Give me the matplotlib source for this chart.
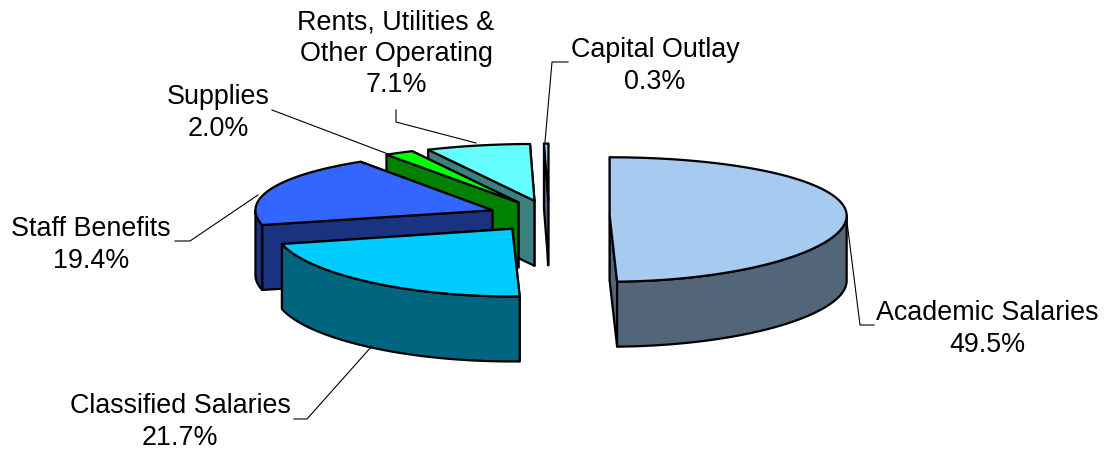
import numpy as np
import matplotlib
matplotlib.use('Agg')
import matplotlib.pyplot as plt
from matplotlib.patches import Polygon

plt.rcParams['font.family'] = ['Liberation Sans', 'DejaVu Sans']

categories = ['Academic Salaries', 'Classified Salaries', 'Staff Benefits', 'Supplies',
              'Rents, Utilities &\nOther Operating', 'Capital Outlay']
values = [49.5, 21.7, 19.4, 2.0, 7.1, 0.3]
top_colors = ['#A6CAF0', '#00CCFF', '#3366FF', '#00FF00', '#66FFFF', '#A6CAF0']
side_colors = ['#536579', '#006680', '#1A3380', '#008000', '#3D8080', '#536579']
# order the slices are painted in, back to front
draw_order = [4, 5, 3, 2, 1, 0]

# pie geometry, in pixels of the output image
cx, cy = 549, 216
radius = 237
squash = 62
depth = 65
explode = 0.256
persp = 0.06


def project(X, Y, drop=0):
    # only the vertical direction is foreshortened
    w = 1 + persp * Y
    return cx + radius * X, cy - squash * Y / w + drop


def rim(a1, a2, ox, oy, drop=0):
    t = np.radians(np.linspace(a1, a2, max(int(a2 - a1) * 2, 2)))
    return project(ox + np.sin(t), oy + np.cos(t), drop)


fig = plt.figure(figsize=(11.04, 4.53), dpi=100)
ax = fig.add_axes([0, 0, 1, 1])
ax.set_xlim(0, 1104)
ax.set_ylim(453, 0)
ax.axis('off')

edges = np.cumsum([0] + values) / sum(values) * 360
for i in draw_order:
    a1, a2 = edges[i], edges[i + 1]
    mid = np.radians((a1 + a2) / 2)
    ox, oy = explode * np.sin(mid), explode * np.cos(mid)
    style = dict(edgecolor='black', linewidth=1.6, joinstyle='round')

    # the two cut faces, the one further away first
    cuts = sorted([a1, a2], key=lambda a: -np.cos(np.radians(a)))
    for a in cuts:
        t = np.radians(a)
        xc, yc = project(ox, oy)
        xr, yr = project(ox + np.sin(t), oy + np.cos(t))
        xc2, yc2 = project(ox, oy, depth)
        xr2, yr2 = project(ox + np.sin(t), oy + np.cos(t), depth)
        ax.add_patch(Polygon([(xc, yc), (xr, yr), (xr2, yr2), (xc2, yc2)],
                             facecolor=side_colors[i], **style))

    # outer wall, only the part of the rim facing the viewer
    w1, w2 = max(a1, 90), min(a2, 270)
    if w2 > w1:
        xt, yt = rim(w1, w2, ox, oy)
        xb, yb = rim(w1, w2, ox, oy, depth)
        pts = np.column_stack([np.r_[xt, xb[::-1]], np.r_[yt, yb[::-1]]])
        ax.add_patch(Polygon(pts, facecolor=side_colors[i], **style))

    # top face
    xt, yt = rim(a1, a2, ox, oy)
    xc, yc = project(ox, oy)
    pts = np.column_stack([np.r_[xc, xt], np.r_[yc, yt]])
    ax.add_patch(Polygon(pts, facecolor=top_colors[i], **style))

# labels: centre position and leader line for each category
label_pos = [(987, 329), (180, 422), (91, 245), (218, 113), (396, 54), (655, 66)]
leaders = [
    [(847, 222), (860, 325), (874, 325)],
    [(372, 346), (307, 419), (294, 419)],
    [(258, 195), (190, 241), (175, 241)],
    [(388, 154), (272, 110)],
    [(476, 143), (396, 122), (396, 110)],
    [(545, 142), (552, 62), (568, 62)],
]
for i, name in enumerate(categories):
    xs, ys = zip(*leaders[i])
    ax.plot(xs, ys, color='black', lw=0.8, zorder=1)
    ax.text(label_pos[i][0], label_pos[i][1], f'{name}\n{values[i]:.1f}%',
            ha='center', va='center', fontsize=19.4, color='black',
            linespacing=1.27, zorder=5)

fig.savefig('out.png', dpi=100, facecolor='white')
